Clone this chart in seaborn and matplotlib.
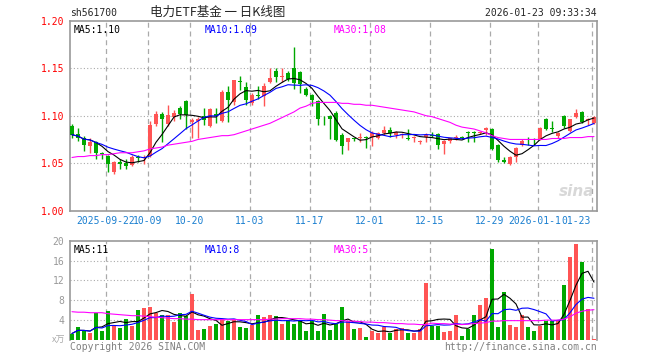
import numpy as np
import pandas as pd
import matplotlib
matplotlib.use("Agg")
import matplotlib.pyplot as plt
import matplotlib.transforms as mtransforms
import seaborn as sns

# === Data: daily K bars of sh561700, 2025-09-12 .. 2026-01-23 (88 sessions) ===
open_px = [1.089, 1.081, 1.077, 1.068, 1.072, 1.061, 1.058, 1.041, 1.051, 1.050,
           1.048, 1.056, 1.055, 1.058, 1.091, 1.102, 1.091, 1.099, 1.108, 1.115,
           1.093, 1.094, 1.100, 1.089, 1.102, 1.094, 1.125, 1.114, 1.137, 1.130,
           1.113, 1.122, 1.121, 1.136, 1.147, 1.141, 1.145, 1.150, 1.146, 1.128,
           1.122, 1.115, 1.097, 1.100, 1.103, 1.080, 1.072, 1.076, 1.076, 1.078,
           1.078, 1.076, 1.082, 1.085, 1.080, 1.080, 1.076, 1.076, 1.072, 1.078,
           1.080, 1.081, 1.070, 1.073, 1.076, 1.078, 1.083, 1.083, 1.082, 1.085,
           1.086, 1.069, 1.053, 1.049, 1.057, 1.069, 1.075, 1.075, 1.075, 1.097,
           1.087, 1.079, 1.100, 1.084, 1.099, 1.104, 1.095, 1.092]
high_px = [1.091, 1.087, 1.079, 1.076, 1.073, 1.062, 1.059, 1.052, 1.054, 1.054,
           1.059, 1.059, 1.059, 1.094, 1.105, 1.104, 1.111, 1.106, 1.110, 1.116,
           1.098, 1.099, 1.108, 1.108, 1.108, 1.127, 1.131, 1.138, 1.142, 1.135,
           1.124, 1.131, 1.134, 1.150, 1.150, 1.150, 1.147, 1.172, 1.147, 1.130,
           1.123, 1.117, 1.100, 1.101, 1.105, 1.082, 1.076, 1.077, 1.082, 1.079,
           1.084, 1.083, 1.089, 1.088, 1.084, 1.082, 1.086, 1.079, 1.074, 1.082,
           1.083, 1.082, 1.074, 1.077, 1.080, 1.079, 1.084, 1.084, 1.084, 1.088,
           1.087, 1.070, 1.056, 1.058, 1.067, 1.075, 1.078, 1.077, 1.088, 1.098,
           1.094, 1.083, 1.101, 1.097, 1.107, 1.105, 1.098, 1.100]
low_px = [1.076, 1.073, 1.063, 1.061, 1.054, 1.054, 1.041, 1.039, 1.044, 1.044,
          1.047, 1.051, 1.049, 1.056, 1.089, 1.072, 1.089, 1.094, 1.096, 1.086,
          1.077, 1.077, 1.090, 1.088, 1.092, 1.093, 1.093, 1.111, 1.127, 1.111,
          1.111, 1.118, 1.110, 1.134, 1.136, 1.136, 1.137, 1.128, 1.124, 1.121,
          1.110, 1.090, 1.090, 1.075, 1.073, 1.060, 1.064, 1.073, 1.072, 1.066,
          1.068, 1.075, 1.080, 1.078, 1.076, 1.076, 1.074, 1.072, 1.070, 1.072,
          1.078, 1.065, 1.060, 1.071, 1.074, 1.075, 1.072, 1.072, 1.081, 1.080,
          1.064, 1.051, 1.050, 1.048, 1.051, 1.068, 1.069, 1.069, 1.074, 1.085,
          1.083, 1.077, 1.087, 1.083, 1.098, 1.092, 1.090, 1.091]
close_px = [1.080, 1.077, 1.069, 1.072, 1.061, 1.060, 1.049, 1.051, 1.049, 1.047,
            1.056, 1.055, 1.057, 1.090, 1.102, 1.097, 1.101, 1.103, 1.102, 1.101,
            1.095, 1.096, 1.095, 1.107, 1.100, 1.125, 1.117, 1.138, 1.135, 1.117,
            1.122, 1.121, 1.131, 1.140, 1.141, 1.142, 1.139, 1.134, 1.133, 1.122,
            1.116, 1.097, 1.096, 1.096, 1.074, 1.068, 1.076, 1.075, 1.078, 1.077,
            1.082, 1.082, 1.085, 1.082, 1.083, 1.081, 1.075, 1.078, 1.073, 1.080,
            1.079, 1.069, 1.073, 1.076, 1.078, 1.076, 1.082, 1.082, 1.083, 1.087,
            1.065, 1.053, 1.051, 1.057, 1.066, 1.073, 1.074, 1.074, 1.087, 1.086,
            1.086, 1.082, 1.089, 1.096, 1.103, 1.093, 1.097, 1.099]
# MA30 needs history before the window, so it is read straight off the chart
ma30_px = [1.056, 1.057, 1.057, 1.058, 1.058, 1.059, 1.059, 1.060, 1.061, 1.061,
           1.061, 1.062, 1.063, 1.065, 1.066, 1.067, 1.069, 1.070, 1.071, 1.072,
           1.073, 1.075, 1.076, 1.077, 1.078, 1.079, 1.079, 1.080, 1.082, 1.084,
           1.086, 1.088, 1.090, 1.092, 1.095, 1.098, 1.101, 1.104, 1.108, 1.110,
           1.113, 1.114, 1.114, 1.114, 1.114, 1.113, 1.113, 1.112, 1.112, 1.111,
           1.111, 1.110, 1.109, 1.108, 1.107, 1.106, 1.105, 1.104, 1.102, 1.100,
           1.099, 1.097, 1.095, 1.093, 1.090, 1.088, 1.087, 1.086, 1.084, 1.082,
           1.079, 1.077, 1.076, 1.075, 1.075, 1.075, 1.075, 1.075, 1.075, 1.075,
           1.076, 1.076, 1.076, 1.077, 1.077, 1.077, 1.078, 1.078]

volume = [1.3, 2.6, 1.9, 1.4, 5.4, 1.9, 5.9, 3.0, 2.5, 4.2,
          2.9, 6.0, 6.5, 6.7, 5.5, 5.0, 5.0, 3.6, 5.5, 4.9,
          9.3, 2.1, 2.3, 2.8, 3.3, 4.3, 3.9, 4.1, 2.7, 2.5,
          3.1, 5.0, 4.6, 5.0, 4.8, 3.2, 4.1, 3.2, 3.9, 1.9,
          3.9, 1.9, 5.3, 2.1, 3.2, 6.7, 3.8, 2.2, 2.4, 0.7,
          1.8, 1.5, 2.7, 1.5, 2.2, 2.4, 1.4, 1.4, 2.2, 11.5,
          2.9, 2.8, 1.7, 1.9, 5.0, 0.8, 2.3, 5.0, 7.0, 8.4,
          18.3, 2.6, 9.7, 3.0, 2.7, 5.0, 2.7, 1.9, 2.8, 3.9,
          3.9, 4.1, 11.1, 16.8, 19.3, 15.8, 6.2, 0.2]
ma30_vol = [5.7, 5.6, 5.6, 5.5, 5.5, 5.5, 5.3, 5.2, 5.1, 5.0,
            4.9, 4.9, 4.8, 4.7, 4.6, 4.5, 4.4, 4.3, 4.3, 4.2,
            4.2, 4.1, 4.1, 4.1, 4.1, 4.1, 4.1, 4.1, 4.1, 4.1,
            4.1, 4.1, 4.1, 4.2, 4.2, 4.3, 4.3, 4.3, 4.3, 4.2,
            4.2, 4.1, 4.1, 4.0, 3.9, 3.9, 3.8, 3.8, 3.7, 3.6,
            3.6, 3.5, 3.5, 3.4, 3.3, 3.3, 3.2, 3.2, 3.1, 3.1,
            3.4, 3.3, 3.3, 3.2, 3.2, 3.1, 3.2, 3.3, 3.4, 3.5,
            3.8, 3.8, 3.9, 3.9, 3.9, 3.9, 3.9, 3.9, 3.9, 4.0,
            4.0, 4.0, 4.2, 4.7, 5.4, 5.8, 6.0, 6.1]

tick_bars = [6, 13, 20, 30, 40, 50, 60, 70, 78, 87]
tick_labels = ["2025-09-22", "10-09", "10-20", "11-03", "11-17",
               "12-01", "12-15", "12-29", "2026-01-12", "01-23"]
price_ticks = [1.00, 1.05, 1.10, 1.15, 1.20]
vol_ticks = [4, 8, 12, 16, 20]

RED = "#ff5454"
GREEN = "#00a800"
GRID = "#aaaaaa"
FRAME = "#999999"
MONO = "DejaVu Sans Mono"

df = pd.DataFrame({"o": open_px, "h": high_px, "l": low_px, "c": close_px,
                   "v": volume, "ma30": ma30_px, "vma30": ma30_vol})
df["i"] = np.arange(len(df))
df["dir"] = np.where(df["c"] >= df["o"], "up", "down")
df["ma5"] = df["c"].rolling(5, min_periods=1).mean()
df["ma10"] = df["c"].rolling(10, min_periods=1).mean()
df["vma5"] = df["v"].rolling(5, min_periods=1).mean()
df["vma10"] = df["v"].rolling(10, min_periods=1).mean()
colors = np.where(df["dir"] == "up", RED, GREEN)

sns.set_style("white")
plt.rcParams["font.family"] = ["DejaVu Sans Mono", "DejaVu Sans"]

W, H = 660, 360
fig = plt.figure(figsize=(6.6, 3.6), dpi=100)
ax = fig.add_axes([70 / W, 1 - 210.7 / H, 527 / W, 190 / H])
axv = fig.add_axes([70 / W, 1 - 340 / H, 527 / W, 99.3 / H])

xlim = (-0.33, 87.5)
LW = 0.8

# === Price pane ===
ax.vlines(df["i"], df["l"], df["h"], colors=colors, lw=1, zorder=3)
body_lo = np.minimum(df["o"], df["c"])
body_h = np.maximum((df["c"] - df["o"]).abs(), 0.0009)
ax.bar(df["i"], body_h, bottom=body_lo, width=0.8, color=colors, linewidth=0, zorder=4)
sns.lineplot(data=df, x="i", y="ma5", color="black", lw=LW, ax=ax, zorder=5)
sns.lineplot(data=df, x="i", y="ma10", color="#0000ff", lw=LW, ax=ax, zorder=5)
sns.lineplot(data=df, x="i", y="ma30", color="#ff00ff", lw=LW, ax=ax, zorder=5)

ax.set_xlim(*xlim)
ax.set_ylim(1.00, 1.20)
ax.set_xlabel("")
ax.set_ylabel("")
ax.set_xticks([])
ax.set_yticks(price_ticks)
ax.set_yticklabels([f"{t:.2f}" for t in price_ticks], color="#ff0000",
                   fontsize=7, family=MONO)
ax.tick_params(axis="y", length=0, pad=4)
for t in price_ticks[1:-1]:
    ax.axhline(t, color=GRID, lw=0.8, ls=(0, (1, 2)), zorder=1)
for b in tick_bars:
    ax.axvline(b - 0.33, color=GRID, lw=0.9, ls=(0, (4, 3)), zorder=1)
for s in ax.spines.values():
    s.set_color(FRAME)
    s.set_linewidth(1.2)

trans = mtransforms.blended_transform_factory(ax.transData, ax.transAxes)
for k, (b, lab) in enumerate(zip(tick_bars, tick_labels)):
    last = k == len(tick_bars) - 1
    ax.text(b - 0.33 if not last else b - 0.55, -0.055, lab,
            transform=trans, ha="right" if last else "center", va="center",
            fontsize=7, color="#1a7fd0", family=MONO, clip_on=False,
            bbox=dict(facecolor="white", edgecolor="none", pad=0) if last else None)

ax.text(4 / 527, 0.975, "MA5:1.10", transform=ax.transAxes, fontsize=7,
        family=MONO, color="black", va="top")
ax.text(135 / 527, 0.975, "MA10:1.09", transform=ax.transAxes, fontsize=7,
        family=MONO, color="#0000ff", va="top")
ax.text(264 / 527, 0.975, "MA30:1.08", transform=ax.transAxes, fontsize=7,
        family=MONO, color="#ff00ff", va="top")
ax.text(0.995, 0.06, "sina", transform=ax.transAxes, ha="right", va="bottom",
        fontsize=11, fontweight="bold", style="italic", color="#d8d8d8",
        family="DejaVu Sans", zorder=0)

# === Volume pane ===
sns.barplot(data=df, x="i", y="v", hue="dir", palette={"up": RED, "down": GREEN},
            native_scale=True, dodge=False, width=0.8, saturation=1,
            errorbar=None, legend=False, linewidth=0, ax=axv, zorder=3)
sns.lineplot(data=df, x="i", y="vma5", color="black", lw=LW, ax=axv, zorder=5)
sns.lineplot(data=df, x="i", y="vma10", color="#0000ff", lw=LW, ax=axv, zorder=5)
sns.lineplot(data=df, x="i", y="vma30", color="#ff00ff", lw=LW, ax=axv, zorder=5)

axv.set_xlim(*xlim)
axv.set_ylim(0, 20)
axv.set_xlabel("")
axv.set_ylabel("")
axv.set_xticks([])
axv.set_yticks(vol_ticks)
axv.set_yticklabels([str(t) for t in vol_ticks], color="#999999", fontsize=7, family=MONO)
axv.tick_params(axis="y", length=0, pad=4)
for t in vol_ticks[:-1]:
    axv.axhline(t, color=GRID, lw=0.8, ls=(0, (1, 2)), zorder=1)
for b in tick_bars:
    axv.axvline(b - 0.33, color=GRID, lw=0.9, ls=(0, (4, 3)), zorder=1)
for name, s in axv.spines.items():
    s.set_color(FRAME)
    s.set_linewidth(1.2)
axv.spines["bottom"].set_visible(False)

axv.text(4 / 527, 0.96, "MA5:11", transform=axv.transAxes, fontsize=7,
         family=MONO, color="black", va="top")
axv.text(135 / 527, 0.96, "MA10:8", transform=axv.transAxes, fontsize=7,
         family=MONO, color="#0000ff", va="top")
axv.text(264 / 527, 0.96, "MA30:5", transform=axv.transAxes, fontsize=7,
         family=MONO, color="#ff00ff", va="top")

# === Header / footer ===
fig.text(70 / W, 1 - 13 / H, "sh561700", fontsize=7, family=MONO, va="center")
fig.text(150 / W, 1 - 12 / H, "电力ETF基金 一 日K线图", fontsize=9,
         family=["Noto Sans CJK SC", "DejaVu Sans"], va="center")
fig.text(597 / W, 1 - 13 / H, "2026-01-23 09:33:34", fontsize=7, family=MONO,
         ha="right", va="center")
fig.text(65 / W, 1 - 340 / H, "x万", fontsize=6.5, color="#aaaaaa", ha="right",
         va="center", family=["Noto Sans CJK SC", "DejaVu Sans"], style="italic")
fig.text(70 / W, 1 - 347 / H, "Copyright 2026 SINA.COM", fontsize=7, family=MONO,
         color="#808080", va="center")
fig.text(597 / W, 1 - 347 / H, "http://finance.sina.com.cn", fontsize=7, family=MONO,
         color="#808080", ha="right", va="center")

fig.savefig("out.png", dpi=100)
